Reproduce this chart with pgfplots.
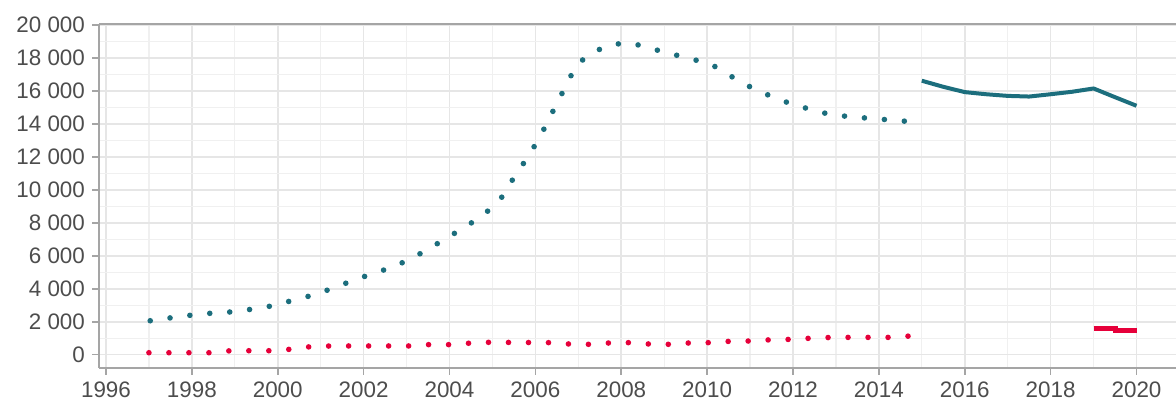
\documentclass[border=0pt]{standalone}
\usepackage{pgfplots}
\pgfplotsset{compat=1.18}
\usepackage{fontspec}
\setmainfont{Liberation Sans}
\definecolor{tealline}{RGB}{28,110,125}
\definecolor{redline}{RGB}{230,0,58}
\definecolor{gridmaj}{RGB}{230,230,230}
\definecolor{gridmin}{RGB}{240,240,240}
\definecolor{axisgray}{RGB}{165,165,165}
\definecolor{labgray}{RGB}{77,77,77}
\begin{document}
\begin{tikzpicture}
\begin{axis}[
    name=ax,
    scale only axis,
    width=538.5pt, height=172pt,
    xmin=1995.837, xmax=2020.92,
    ymin=-807, ymax=20061,
    axis x line*=bottom, axis y line*=left,
    axis line style={draw=axisgray, line width=1pt},
    xtick={1996,1998,...,2020},
    ytick={0,2000,...,20000},
    minor xtick={1997,1999,...,2021},
    minor ytick={1000,3000,...,19000},
    grid=both,
    major grid style={draw=gridmaj, line width=0.8pt},
    minor grid style={draw=gridmin, line width=0.6pt},
    tick align=outside,
    major tick length=3.5pt, minor tick length=0pt,
    tick style={draw=axisgray, line width=0.8pt},
    scaled ticks=false,
    ticklabel style={font=\fontsize{11.2}{13}\selectfont, text=labgray},
    /pgf/number format/assume math mode=true,
    x tick label style={/pgf/number format/1000 sep={}},
    y tick label style={/pgf/number format/1000 sep={\ }},
]
\draw[axisgray, line width=1pt] (rel axis cs:0,1) -- (rel axis cs:1,1);

% teal, dotted part
\addplot[tealline, no marks, line width=2.8pt, line cap=round, dash pattern=on 0pt off 10pt] coordinates {
(1997.03,2060) (1997.49,2230) (1997.96,2390) (1998.42,2510) (1998.89,2590)
(1999.37,2750) (1999.84,2950) (2000.30,3260) (2000.77,3580) (2001.24,3990)
(2001.72,4470) (2002.19,4900) (2002.66,5300) (2003.09,5800) (2003.51,6410)
(2003.96,7120) (2004.38,7770) (2004.80,8500) (2005.18,9400) (2005.44,10500)
(2005.73,11630) (2005.99,12700) (2006.24,13880) (2006.47,15090) (2006.71,16300)
(2006.95,17560) (2007.30,18300) (2007.77,18830) (2008.24,18900) (2008.70,18570)
(2009.16,18250) (2009.63,17940) (2010.08,17640) (2010.55,16900) (2011.02,16220)
(2011.45,15720) (2011.92,15250) (2012.39,14890) (2012.85,14580) (2013.31,14440)
(2013.78,14340) (2014.26,14240) (2014.72,14140)
};

% teal, solid part
\addplot[tealline, no marks, line width=2pt, line join=round] coordinates {
(2015.0,16620) (2015.5,16250) (2016.0,15930) (2016.5,15800) (2017.0,15700)
(2017.5,15660) (2018.0,15800) (2018.5,15950) (2019.0,16150) (2019.5,15620)
(2020.0,15100)
};

% red, dotted part
\addplot[redline, no marks, line width=2.8pt, line cap=round, dash pattern=on 0pt off 10pt] coordinates {
(1997.0,120) (1998.4,120) (1998.9,240) (1999.84,240) (2000.3,330)
(2000.77,490) (2001.24,530) (2003.09,530) (2003.5,610) (2004.0,610)
(2004.4,690) (2004.9,750) (2006.4,730) (2006.87,630) (2007.33,630)
(2007.8,730) (2008.27,730) (2008.73,630) (2009.2,630) (2009.66,730)
(2010.13,730) (2010.6,830) (2011.07,830) (2011.5,910) (2012.0,930)
(2012.46,1010) (2012.93,1050) (2014.33,1050) (2014.8,1150)
};

% red, solid part
\addplot[redline, no marks, line width=2.5pt] coordinates {
(2019.0,1600) (2019.5,1600) (2019.5,1460) (2020.0,1460)
};
\end{axis}
\pgfresetboundingbox
\path[use as bounding box] ([xshift=-49.5pt,yshift=-16.5pt]ax.south west) rectangle ([yshift=12pt]ax.north east);
\end{tikzpicture}
\end{document}
